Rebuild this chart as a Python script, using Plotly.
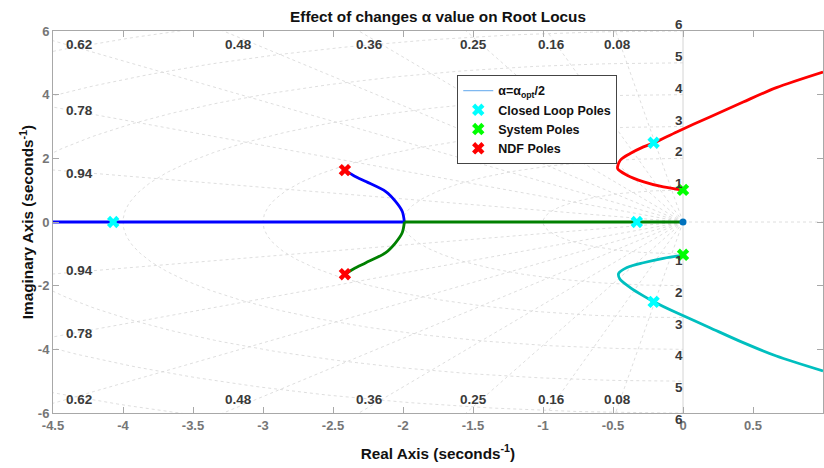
import numpy as np
import plotly.graph_objects as go

# ---- Root locus branches (s-plane, seconds^-1) ----
# upper NDF branch: NDF pole -> break-in point on the real axis
blue_curve_x = [-2.415, -2.345, -2.265, -2.123, -2.052, -2.005, -1.99]
blue_curve_y = [1.63, 1.44, 1.27, 0.955, 0.64, 0.33, 0.0]
# that branch then runs left along the negative real axis
blue_axis_x = [-1.99, -4.6]
blue_axis_y = [0.0, 0.0]

# lower NDF branch: NDF pole -> break-in point, then right to the origin
green_curve_x = [-2.415, -2.345, -2.265, -2.123, -2.052, -2.005, -1.99]
green_curve_y = [-1.64, -1.45, -1.28, -0.96, -0.645, -0.33, 0.0]
green_axis_x = [-1.99, 0.0]
green_axis_y = [0.0, 0.0]

# upper system-pole branch, leaving into the right half plane
red_x = [0.0, -0.14, -0.28, -0.40, -0.467, -0.448, -0.377, -0.283, -0.206,
         -0.045, 0.192, 0.43, 0.667, 1.0]
red_y = [1.0, 1.10, 1.26, 1.47, 1.68, 1.94, 2.15, 2.36, 2.49,
         2.83, 3.30, 3.77, 4.22, 4.71]

# lower system-pole branch
cyan_x = [0.0, -0.14, -0.283, -0.40, -0.46, -0.45, -0.377, -0.283, -0.206,
          -0.045, 0.192, 0.43, 0.667, 1.0]
cyan_y = [-1.04, -1.14, -1.28, -1.43, -1.62, -1.80, -2.06, -2.32, -2.51,
          -2.85, -3.32, -3.79, -4.21, -4.68]

# pole markers
cl_poles_x = [-4.07, -0.33, -0.21, -0.21]
cl_poles_y = [0.0, 0.0, 2.49, -2.51]
sys_poles_x = [0.0, 0.0]
sys_poles_y = [1.01, -1.03]
ndf_poles_x = [-2.415, -2.415]
ndf_poles_y = [1.63, -1.64]
origin_x = [0.0]
origin_y = [0.0]

# ---- s-plane grid ----
damping = [0.08, 0.16, 0.25, 0.36, 0.48, 0.62, 0.78, 0.94]
damping_labels = ["0.08", "0.16", "0.25", "0.36", "0.48", "0.62", "0.78", "0.94"]
wn_circles = [1, 2, 3, 4, 5, 6, 7, 8]
wn_labels = ["1", "2", "3", "4", "5", "6"]

x_ticks = [-4.5, -4, -3.5, -3, -2.5, -2, -1.5, -1, -0.5, 0, 0.5]
x_ticktext = ["-4.5", "-4", "-3.5", "-3", "-2.5", "-2", "-1.5", "-1", "-0.5", "0", "0.5"]
y_ticks = [-6, -4, -2, 0, 2, 4, 6]
y_ticktext = ["-6", "-4", "-2", "0", "2", "4", "6"]

XMIN, XMAX = -4.5, 1.0
YMIN, YMAX = -6.0, 6.0

FONT = "Liberation Sans"
GRID = dict(color="#d6d6d6", width=0.8, dash="dot")
LABEL_FONT = dict(family=FONT, size=13.5, color="#3a3a3a", weight="bold")

fig = go.Figure()

# constant-damping rays
R = 20.0
for z in damping:
    s = np.sqrt(1 - z * z)
    fig.add_trace(go.Scatter(x=[0, -z * R], y=[0, s * R], mode="lines", line=GRID,
                             hoverinfo="skip", showlegend=False))
    fig.add_trace(go.Scatter(x=[0, -z * R], y=[0, -s * R], mode="lines", line=GRID,
                             hoverinfo="skip", showlegend=False))

# constant natural-frequency arcs (left half plane)
t = np.linspace(np.pi / 2, 3 * np.pi / 2, 241)
for w in wn_circles:
    fig.add_trace(go.Scatter(x=w * np.cos(t), y=w * np.sin(t), mode="lines", line=GRID,
                             hoverinfo="skip", showlegend=False))

# real and imaginary axes
fig.add_trace(go.Scatter(x=[XMIN, XMAX], y=[0, 0], mode="lines", line=GRID,
                         hoverinfo="skip", showlegend=False))
fig.add_trace(go.Scatter(x=[0, 0], y=[YMIN, YMAX], mode="lines",
                         line=dict(color="#d4d4d4", width=1),
                         hoverinfo="skip", showlegend=False))

# locus branches
def branch(x, y, color, shape="spline"):
    fig.add_trace(go.Scatter(x=x, y=y, mode="lines",
                             line=dict(color=color, width=2.8, shape=shape, smoothing=0.8),
                             hoverinfo="skip", showlegend=False))

branch(blue_curve_x, blue_curve_y, "#0000ff")
branch(blue_axis_x, blue_axis_y, "#0000ff", "linear")
branch(green_curve_x, green_curve_y, "#008000")
branch(green_axis_x, green_axis_y, "#008000", "linear")
branch(red_x, red_y, "#ff0000")
branch(cyan_x, cyan_y, "#00bfbf")

fig.add_trace(go.Scatter(x=origin_x, y=origin_y, mode="markers",
                         marker=dict(color="#0072bd", size=7, symbol="circle"),
                         showlegend=False))

# legend line entry
fig.add_trace(go.Scatter(x=[None], y=[None], mode="lines",
                         line=dict(color="#7fb8f0", width=1.2),
                         name="α=α<sub>opt</sub>/2"))

MK = dict(symbol="x", size=11, line=dict(width=0))
fig.add_trace(go.Scatter(x=cl_poles_x, y=cl_poles_y, mode="markers",
                         marker=dict(color="#00ffff", **MK), name="Closed Loop Poles"))
fig.add_trace(go.Scatter(x=sys_poles_x, y=sys_poles_y, mode="markers",
                         marker=dict(color="#00ff00", **MK), name="System Poles"))
fig.add_trace(go.Scatter(x=ndf_poles_x, y=ndf_poles_y, mode="markers",
                         marker=dict(color="#ff0000", **MK), name="NDF Poles"))

# grid labels
annotations = []
for z, lab in zip(damping, damping_labels):
    s = np.sqrt(1 - z * z)
    x_top = -YMAX * z / s
    if x_top >= XMIN:
        xl = -5.8 * z / s
        for sign in (1, -1):
            annotations.append(dict(x=xl, y=sign * 5.58, text=lab, showarrow=False,
                                    xanchor="center", yanchor="middle", font=LABEL_FONT))
    else:
        yl = -XMIN * s / z - 0.11
        for sign in (1, -1):
            annotations.append(dict(x=XMIN + 0.08, y=sign * yl, text=lab, showarrow=False,
                                    xanchor="left", yanchor="middle", font=LABEL_FONT))

for w, lab in zip(wn_circles, wn_labels):
    annotations.append(dict(x=-0.03, y=w, text=lab, showarrow=False, xanchor="center",
                            yanchor="bottom", font=LABEL_FONT, yshift=-3))
    annotations.append(dict(x=-0.03, y=-w, text=lab, showarrow=False, xanchor="center",
                            yanchor="top", font=LABEL_FONT, yshift=3))

AX = dict(showline=True, linecolor="#a8a8a8", linewidth=1, mirror="ticks",
          ticks="inside", ticklen=6, tickcolor="#a8a8a8", showgrid=False, zeroline=False,
          tickfont=dict(family=FONT, size=13, color="#767676", weight="bold"))

TITLE_FONT = dict(family=FONT, size=15.3, color="#111111")

fig.update_layout(
    width=824, height=468,
    margin=dict(l=53, r=1, t=31, b=55),
    paper_bgcolor="white", plot_bgcolor="white",
    title=dict(text="<b>Effect of changes α value on Root Locus</b>",
               x=0.5, xref="paper", xanchor="center",
               y=1 - 17 / 468, yref="container", yanchor="middle",
               font=TITLE_FONT),
    xaxis=dict(range=[XMIN, XMAX], tickmode="array", tickvals=x_ticks, ticktext=x_ticktext,
               title=dict(text="<b>Real Axis (seconds<sup>-1</sup>)</b>", standoff=16,
                          font=TITLE_FONT),
               **AX),
    yaxis=dict(range=[YMIN, YMAX], tickmode="array", tickvals=y_ticks, ticktext=y_ticktext,
               title=dict(text="<b>Imaginary Axis (seconds<sup>-1</sup>)</b>", standoff=0,
                          font=TITLE_FONT),
               **AX),
    legend=dict(x=0.525, y=0.885, xanchor="left", yanchor="top",
                bgcolor="white", bordercolor="#444444", borderwidth=1,
                font=dict(family=FONT, size=12.5, color="#111111", weight="bold"),
                itemwidth=30, tracegroupgap=0),
    annotations=annotations,
    showlegend=True,
)

fig.write_html("out.html")
